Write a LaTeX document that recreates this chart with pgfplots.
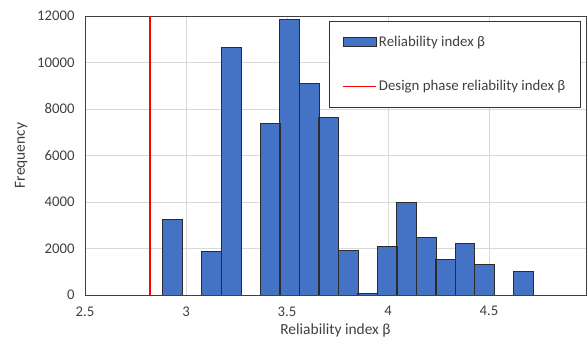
\documentclass[border=0pt]{standalone}
\usepackage{fontspec}
\setmainfont{Carlito}
\usepackage{pgfplots}
\pgfplotsset{compat=1.18}
\definecolor{barblue}{HTML}{4472C4}
\definecolor{baredge}{HTML}{2B2B2B}
\definecolor{gridgray}{HTML}{D9D9D9}
\definecolor{txt}{HTML}{404040}
\definecolor{redline}{HTML}{FF0000}
\begin{document}
\begin{tikzpicture}
\begin{axis}[
  scale only axis,
  width=501bp, height=279bp,
  xmin=2.5, xmax=4.98,
  ymin=0, ymax=12000,
  xtick={2.5,3,3.5,4,4.5},
  ytick={0,2000,4000,6000,8000,10000,12000},
  xticklabels={2.5,3,3.5,4,4.5},
  scaled y ticks=false,
  yticklabel style={/pgf/number format/1000 sep={}},
  /pgf/number format/assume math mode=true,
  major tick length=0pt,
  xmajorgrids, ymajorgrids,
  grid style={gridgray, line width=0.8pt},
  axis line style={draw=black!75, line width=0.8pt},
  tick label style={font=\fontsize{14.8}{17}\selectfont, text=txt},
  xticklabel style={yshift=-8bp},
  yticklabel style={xshift=-7bp},
  label style={font=\fontsize{15.5}{18}\selectfont, text=txt},
  xlabel={Reliability index β},
  ylabel={Frequency},
  xlabel style={yshift=-1bp},
  ylabel style={yshift=3bp},
  legend style={at={(rel axis cs:0.487,0.9821)}, anchor=north west,
    draw=black!80, line width=0.8pt, font=\fontsize{14.9}{17}\selectfont, text=txt,
    inner xsep=13bp, inner ysep=12.5bp, row sep=29bp},
  legend cell align=left,
]
\addplot[ybar, bar width=0.0965, bar shift=0, fill=barblue, draw=baredge, line width=0.9pt,
  legend image code/.code={\draw[fill=barblue, draw=baredge, line width=0.9pt] (0bp,-4.5bp) rectangle (33bp,4.5bp);}]
coordinates {
(2.934,3250) (3.031,0) (3.127,1890) (3.224,10626) (3.320,0)
(3.417,7360) (3.513,11858) (3.610,9094) (3.706,7648) (3.803,1933)
(3.899,50) (3.996,2075) (4.092,3980) (4.189,2462) (4.285,1517)
(4.382,2204) (4.478,1332) (4.575,0) (4.671,1014)
};
\addlegendentry{Reliability index β}
\addplot[draw=redline, line width=1.6pt,
  legend image code/.code={\draw[draw=redline, line width=1.6pt] (0bp,0bp) -- (33bp,0bp);}]
coordinates {(2.822,0) (2.822,12000)};
\addlegendentry{Design phase reliability index β}
\end{axis}
\pgfresetboundingbox
\path (-85bp,-54bp) rectangle (502bp,295bp);
\end{tikzpicture}
\end{document}
